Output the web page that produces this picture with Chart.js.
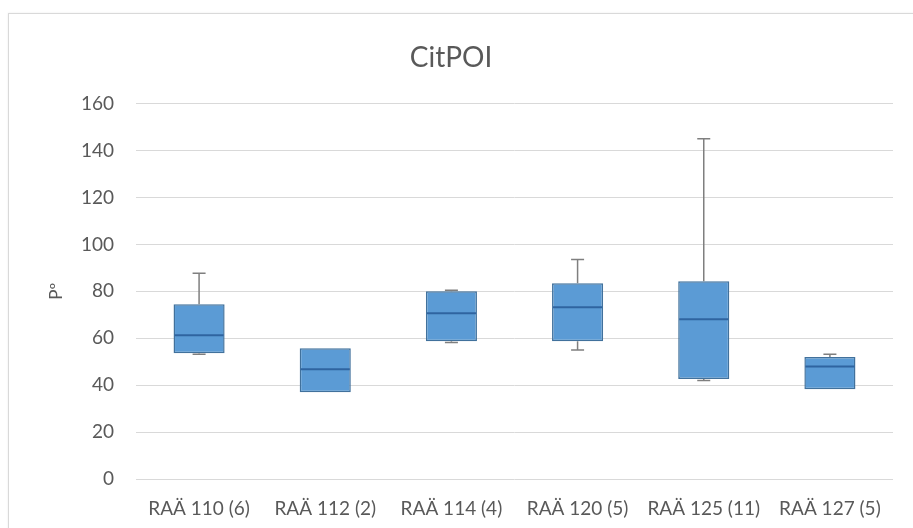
<!DOCTYPE html>
<html>
<head>
<meta charset="utf-8">
<script src="https://cdn.jsdelivr.net/npm/chart.js@4/dist/chart.umd.min.js"></script>
<style>
  html, body { margin: 0; padding: 0; background: #ffffff; }
  #wrap { position: relative; width: 913px; height: 528px; overflow: hidden; background: #fff; }
  #card { position: absolute; left: 8px; top: 13px; width: 940px; height: 560px; border: 1px solid #d9d9d9; box-shadow: 0 0 2px rgba(0,0,0,0.08); }
  canvas { position: absolute; left: 0; top: 0; }
</style>
</head>
<body>
<div id="wrap">
  <div id="card"></div>
  <canvas id="c" width="913" height="528"></canvas>
</div>
<script>
const categories = ['RAÄ 110 (6)', 'RAÄ 112 (2)', 'RAÄ 114 (4)', 'RAÄ 120 (5)', 'RAÄ 125 (11)', 'RAÄ 127 (5)'];
const minValues    = [53.2, 37.0, 58.2, 55.0, 42.0, 38.3];
const q1Values     = [53.6, 37.0, 58.7, 58.7, 42.6, 38.3];
const medianValues = [61.3, 46.8, 70.6, 73.2, 68.1, 48.0];
const q3Values     = [74.5, 55.7, 80.0, 83.4, 84.3, 52.0];
const maxValues    = [87.7, 55.7, 80.5, 93.6, 145.0, 53.2];
const yTicks = [0, 20, 40, 60, 80, 100, 120, 140, 160];

const FONT = 'Lato';
const TEXT = '#595959';

const boxPlugin = {
  id: 'boxExtras',
  afterDatasetsDraw(chart) {
    const ctx = chart.ctx;
    const y = chart.scales.y;
    const meta = chart.getDatasetMeta(0);
    ctx.save();
    meta.data.forEach((el, i) => {
      const x = el.x;
      const half = el.width / 2;
      const yQ1 = y.getPixelForValue(q1Values[i]);
      const yQ3 = y.getPixelForValue(q3Values[i]);
      const yMin = y.getPixelForValue(minValues[i]);
      const yMax = y.getPixelForValue(maxValues[i]);
      const yMed = y.getPixelForValue(medianValues[i]);
      const cap = 6.5;
      ctx.strokeStyle = '#7f7f7f';
      ctx.lineWidth = 1.5;
      if (maxValues[i] > q3Values[i]) {
        ctx.beginPath();
        ctx.moveTo(x, yQ3); ctx.lineTo(x, yMax);
        ctx.moveTo(x - cap, yMax); ctx.lineTo(x + cap, yMax);
        ctx.stroke();
      }
      if (minValues[i] < q1Values[i]) {
        ctx.beginPath();
        ctx.moveTo(x, yQ1); ctx.lineTo(x, yMin);
        ctx.moveTo(x - cap, yMin); ctx.lineTo(x + cap, yMin);
        ctx.stroke();
      }
      ctx.strokeStyle = '#2f64a0';
      ctx.lineWidth = 2;
      ctx.beginPath();
      ctx.moveTo(x - half + 1, yMed); ctx.lineTo(x + half - 1, yMed);
      ctx.stroke();
    });
    ctx.restore();
  }
};

new Chart(document.getElementById('c'), {
  type: 'bar',
  data: {
    labels: categories,
    datasets: [{
      data: q1Values.map((v, i) => [v, q3Values[i]]),
      backgroundColor: '#5b9bd5',
      borderColor: '#41719c',
      borderWidth: 1.5,
      borderSkipped: false,
      barPercentage: 0.405,
      categoryPercentage: 1.0
    }]
  },
  options: {
    responsive: false,
    animation: false,
    layout: { padding: { left: 9, right: 20, top: 33, bottom: 8 } },
    plugins: {
      legend: { display: false },
      tooltip: { enabled: false },
      title: {
        display: true,
        text: 'CitPOI',
        color: TEXT,
        font: { family: FONT, size: 28, weight: 'normal' },
        padding: { top: 8, bottom: 29 }
      }
    },
    scales: {
      x: {
        grid: { display: false },
        border: { display: false },
        ticks: { color: TEXT, font: { family: FONT, size: 19 }, padding: 10, maxRotation: 0, autoSkip: false },
        afterFit(scale) { scale.height = 41; }
      },
      y: {
        min: 0, max: 160,
        afterBuildTicks(scale) { scale.ticks = yTicks.map(v => ({ value: v })); },
        grid: { color: '#d9d9d9', lineWidth: 1, drawTicks: false },
        border: { display: false },
        ticks: { color: TEXT, font: { family: FONT, size: 19 }, padding: 22 },
        title: { display: true, text: 'Pº', color: TEXT, font: { family: FONT, size: 17 }, padding: { top: 37, bottom: 0 } },
        afterFit(scale) { scale.width = 127; }
      }
    }
  },
  plugins: [boxPlugin]
});
</script>
</body>
</html>
